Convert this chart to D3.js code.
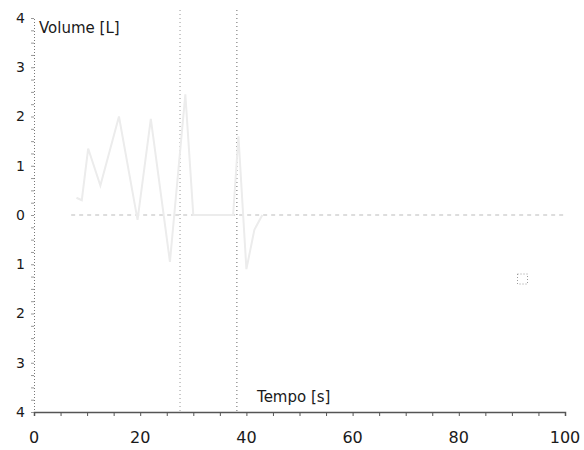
<!DOCTYPE html>
<html>
<head>
<meta charset="utf-8">
<script src="https://cdn.jsdelivr.net/npm/d3@7"></script>
<style>
  body { margin: 0; background: #fff; }
  text { font-family: "DejaVu Sans", Verdana, sans-serif; fill: #1a1a1a; }
</style>
</head>
<body>
<script>
// spirometry trace - volume vs time

const xTicks = [0, 20, 40, 60, 80, 100];
const yTicks = [4, 3, 2, 1, 0, -1, -2, -3, -4];
const yTickLabels = ["4", "3", "2", "1", "0", "1", "2", "3", "4"];

// breathing trace
const traceTime = [8, 9, 10.2, 12.5, 16, 19.5, 22, 25.6, 28.5, 30, 35, 37.5, 38.5, 40, 41.5, 43];
const traceVolume = [0.35, 0.3, 1.35, 0.6, 2.0, -0.1, 1.95, -0.95, 2.45, 0, 0, 0, 1.6, -1.1, -0.3, 0];

// baseline (zero volume level)
const baselineTime = [7, 100];
const baselineVolume = [0, 0];

// vertical markers
const markerTimes = [27.5, 38.2];
const markerColors = ["#b0b0b0", "#8a8a8a"];

// end point square
const endPoint = { t: 92, v: -1.3 };

const width = 584, height = 450;
const margin = { top: 18, right: 19, bottom: 38, left: 34 };

const svg = d3.select("body").append("svg")
  .attr("width", width)
  .attr("height", height);

const x = d3.scaleLinear().domain([0, 100]).range([margin.left, width - margin.right]);
const y = d3.scaleLinear().domain([-4, 4]).range([height - margin.bottom, margin.top]);

// vertical marker lines
svg.selectAll(".marker")
  .data(markerTimes)
  .enter()
  .append("line")
  .attr("x1", d => x(d))
  .attr("x2", d => x(d))
  .attr("y1", 10)
  .attr("y2", y(-4))
  .attr("stroke", (d, i) => markerColors[i])
  .attr("stroke-width", 1.3)
  .attr("stroke-dasharray", "1,3");

// baseline
const baseline = baselineTime.map((t, i) => [t, baselineVolume[i]]);
svg.append("path")
  .datum(baseline)
  .attr("fill", "none")
  .attr("stroke", "#d2d2d2")
  .attr("stroke-width", 1.5)
  .attr("stroke-dasharray", "4,4")
  .attr("d", d3.line().x(d => x(d[0])).y(d => y(d[1])));

// trace
const trace = traceTime.map((t, i) => [t, traceVolume[i]]);
svg.append("path")
  .datum(trace)
  .attr("fill", "none")
  .attr("stroke", "#ececec")
  .attr("stroke-width", 2)
  .attr("d", d3.line().x(d => x(d[0])).y(d => y(d[1])));

// end point square
svg.append("rect")
  .attr("x", x(endPoint.t) - 5)
  .attr("y", y(endPoint.v) - 5)
  .attr("width", 10)
  .attr("height", 10)
  .attr("fill", "none")
  .attr("stroke", "#999")
  .attr("stroke-dasharray", "1,2");

// y axis
const yAxis = svg.append("g")
  .attr("transform", `translate(${x(0)},0)`)
  .call(d3.axisLeft(y)
    .tickValues(d3.range(-4, 4.01, 0.25))
    .tickSize(3)
    .tickFormat(""));
yAxis.select(".domain")
  .attr("stroke", "#777")
  .attr("stroke-dasharray", "1,2");
yAxis.selectAll(".tick line").attr("stroke", "#999");

svg.append("g")
  .selectAll("text")
  .data(yTicks)
  .enter()
  .append("text")
  .attr("x", x(0) - 9)
  .attr("y", d => y(d))
  .attr("dy", "0.35em")
  .attr("text-anchor", "end")
  .attr("font-size", 14)
  .text((d, i) => yTickLabels[i]);

// x axis
const xAxis = svg.append("g")
  .attr("transform", `translate(0,${y(-4)})`)
  .call(d3.axisBottom(x)
    .tickValues(d3.range(0, 100.01, 5))
    .tickSize(4)
    .tickFormat(""));
xAxis.select(".domain").attr("stroke", "#555").attr("stroke-width", 1.5);
xAxis.selectAll(".tick line").attr("stroke", "#555");

svg.append("g")
  .selectAll("text")
  .data(xTicks)
  .enter()
  .append("text")
  .attr("x", d => x(d))
  .attr("y", y(-4) + 31)
  .attr("text-anchor", "middle")
  .attr("font-size", 16)
  .text(d => d);

// axis titles
svg.append("text")
  .attr("x", x(0) + 5)
  .attr("y", 33)
  .attr("font-size", 15)
  .text("Volume [L]");

svg.append("text")
  .attr("x", x(42))
  .attr("y", y(-4) - 10)
  .attr("font-size", 15)
  .text("Tempo [s]");
</script>
</body>
</html>
